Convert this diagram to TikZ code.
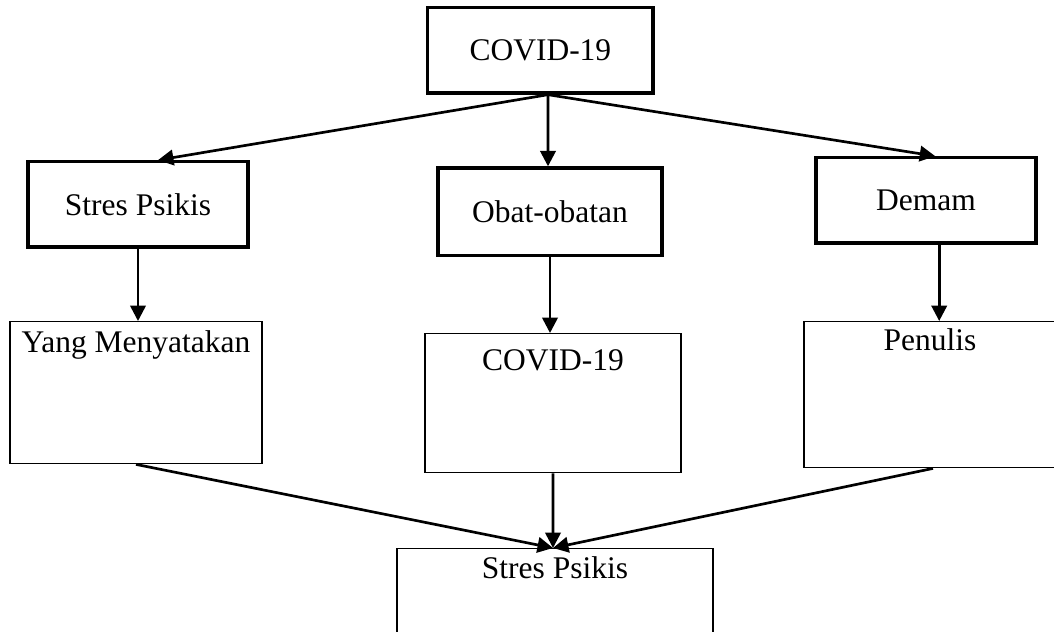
\documentclass[tikz,border=0pt]{standalone}
\usepackage{fontspec}
\setmainfont{Liberation Serif}
\usetikzlibrary{arrows.meta}

\begin{document}
\begin{tikzpicture}[
    font=\fontsize{22.4}{27}\selectfont,
    box/.style={draw, rectangle, line width=2.4pt, minimum height=2.13cm, align=center},
    tallbox/.style={draw, rectangle, line width=1pt, inner ysep=0pt, anchor=north, align=center},
    arrow/.style={-{Triangle[length=11pt,width=11pt]}, line width=1.9pt}
]
    \useasboundingbox (0,0) rectangle (26.35,-15.8);

    % Top cause
    \node[box, minimum width=5.63cm] (covid) at (13.51,-1.26) {COVID-19};

    % Second row
    \node[box, minimum width=5.5cm] (stres) at (3.45,-5.11) {Stres Psikis};
    \node[box, minimum width=5.6cm, minimum height=2.18cm] (obat) at (13.75,-5.29) {Obat-obatan};
    \node[box, minimum width=5.5cm] (demam) at (23.15,-5.01) {Demam};

    % Third row
    \node[tallbox, minimum width=6.3cm, text height=0.775cm, text depth=2.775cm] (yang) at (3.4,-8.025) {Yang Menyatakan};
    \node[tallbox, minimum width=6.4cm, text height=0.925cm, text depth=2.55cm] (covidb) at (13.825,-8.325) {COVID-19};
    \node[tallbox, minimum width=6.3cm, text height=0.725cm, text depth=2.925cm] (penulis) at (23.25,-8.025) {Penulis};

    % Result
    \node[tallbox, minimum width=7.9cm, text height=0.75cm, text depth=2.05cm] (hasil) at (13.875,-13.7) {Stres Psikis};

    % Arrows
    \draw[arrow] ([xshift=0.19cm]covid.south) -- ([xshift=0.5cm]stres.north);
    \draw[arrow] ([xshift=0.19cm]covid.south) -- ([xshift=-0.05cm]obat.north);
    \draw[arrow] ([xshift=0.19cm]covid.south) -- ([xshift=0.23cm]demam.north);
    \draw[arrow] (stres.south) -- (stres.south |- yang.north);
    \draw[arrow] (obat.south) -- (obat.south |- covidb.north);
    \draw[arrow] ([xshift=0.33cm]demam.south) -- ([xshift=0.23cm]penulis.north);
    \draw[arrow] (yang.south) -- ([xshift=-0.05cm]hasil.north);
    \draw[arrow] (covidb.south) -- ([xshift=-0.05cm]hasil.north);
    \draw[arrow] ([xshift=0.075cm]penulis.south) -- ([xshift=-0.05cm]hasil.north);

\end{tikzpicture}
\end{document}
